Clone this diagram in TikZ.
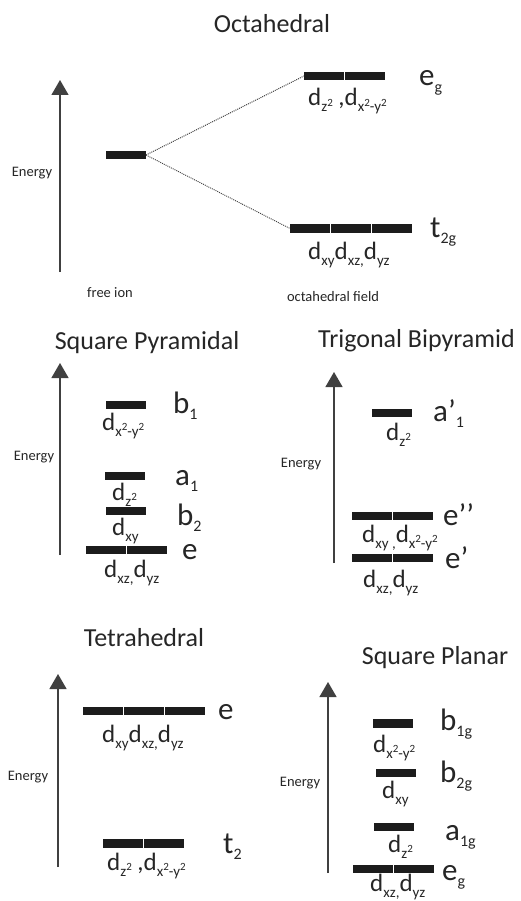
\documentclass[tikz,border=0pt]{standalone}
\usepackage{fontspec}
\setmainfont{Carlito}
\usetikzlibrary{arrows.meta}
\definecolor{txt}{HTML}{262626}
\definecolor{barc}{HTML}{1C1C1C}
\definecolor{axc}{HTML}{404040}
\newcommand\sbx[1]{\raisebox{-0.24em}{\fontsize{15}{17}\selectfont #1}}
\newcommand\sqr{\raisebox{0.35em}{\fontsize{11}{12}\selectfont 2}}
\newcommand\ssb[1]{\raisebox{-0.22em}{\fontsize{16}{18}\selectfont #1}}
\begin{document}
\begin{tikzpicture}[x=1pt,y=-1pt,
  seg/.style={rectangle,fill=barc,draw=none,minimum width=40pt,minimum height=8.5pt,inner sep=0pt,outer sep=0pt},
  ttl/.style={text=txt,font=\fontsize{26}{30}\selectfont,inner sep=0pt},
  sml/.style={text=txt,font=\fontsize{14.5}{17}\selectfont,inner sep=0pt},
  dl/.style={text=txt,font=\fontsize{25}{28}\selectfont,inner sep=0pt,anchor=base west},
  sl/.style={text=txt,font=\fontsize{31}{34}\selectfont,inner sep=0pt,anchor=base west},
  ax/.style={draw=axc,line width=1.3pt,-{Triangle[width=17pt,length=15pt]}},
  dotl/.style={draw=axc,line width=0.9pt,dash pattern=on 1pt off 1pt}]
\useasboundingbox (0,0) rectangle (520,901);
\fill[white] (0,0) rectangle (520,901);

% ================= Octahedral =================
\node[ttl] (tOct) at (272,24) {Octahedral};
\coordinate (oA0) at (60,272); \coordinate (oA1) at (60,80);
\draw[ax] (oA0) -- (oA1);
\node[sml] (oEn) at (32,173) {Energy};
\node[seg,anchor=west] (free) at (106,155) {};
\node[seg,anchor=west] (oeg1) at (304,76) {};
\node[seg,anchor=west] (oeg2) at ([xshift=1.2pt]oeg1.east) {};
\node[seg,anchor=west] (ot1) at (290,228.5) {};
\node[seg,anchor=west] (ot2) at ([xshift=1.2pt]ot1.east) {};
\node[seg,anchor=west] (ot3) at ([xshift=1.2pt]ot2.east) {};
\draw[dotl] (free.east) -- (oeg1.west);
\draw[dotl] (free.east) -- (ot1.west);
\node[sl] (oegL) at (419,86) {e\ssb{g}};
\node[dl] (oegD) at (308,106) {d\sbx{z\sqr} ,d\sbx{x\sqr-y\sqr}};
\node[sl] (ot2gL) at (430,237) {t\ssb{2g}};
\node[dl] (ot2gD) at (308,259) {d\sbx{xy}d\sbx{xz,}d\sbx{yz}};
\node[sml] (ofree) at (110,293) {free ion};
\node[sml] (ofield) at (333,297) {octahedral field};

% ================= Square Pyramidal =================
\node[ttl] (tSP) at (147,343) {Square Pyramidal};
\coordinate (pA0) at (60,555); \coordinate (pA1) at (60,363);
\draw[ax] (pA0) -- (pA1);
\node[sml] (pEn) at (34,457) {Energy};
\node[seg,anchor=west] (pb1) at (106,405) {};
\node[sl] (pb1L) at (173,413) {b\ssb{1}};
\node[dl] (pb1D) at (102,430) {d\sbx{x\sqr-y\sqr}};
\node[seg,anchor=west] (pa1) at (105,476) {};
\node[sl] (pa1L) at (175,485) {a\ssb{1}};
\node[dl] (pa1D) at (112,500) {d\sbx{z\sqr}};
\node[seg,anchor=west] (pb2) at (106,511) {};
\node[sl] (pb2L) at (177,525) {b\ssb{2}};
\node[dl] (pb2D) at (112,535) {d\sbx{xy}};
\node[seg,anchor=west] (pe1) at (86,550) {};
\node[seg,anchor=west] (pe2) at ([xshift=1.2pt]pe1.east) {};
\node[sl] (peL) at (182,559) {e};
\node[dl] (peD) at (104,577) {d\sbx{xz,}d\sbx{yz}};

% ================= Trigonal Bipyramid =================
\node[ttl,anchor=west] (tTB) at (318,341) {Trigonal Bipyramid};
\coordinate (bA0) at (334,563); \coordinate (bA1) at (334,372);
\draw[ax] (bA0) -- (bA1);
\node[sml] (bEn) at (301,464) {Energy};
\node[seg,anchor=west] (ba1) at (372,413) {};
\node[sl] (ba1L) at (433,421) {a’\ssb{1}};
\node[dl] (ba1D) at (386,440) {d\sbx{z\sqr}};
\node[seg,anchor=west] (be21) at (352,516) {};
\node[seg,anchor=west] (be22) at ([xshift=1.2pt]be21.east) {};
\node[sl] (be2L) at (443,525) {e’’};
\node[dl] (be2D) at (362,542) {d\sbx{xy ,}d\sbx{x\sqr-y\sqr}};
\node[seg,anchor=west] (be11) at (352,558) {};
\node[seg,anchor=west] (be12) at ([xshift=1.2pt]be11.east) {};
\node[sl] (be1L) at (445,568) {e’};
\node[dl] (be1D) at (363,587) {d\sbx{xz,}d\sbx{yz}};

% ================= Tetrahedral =================
\node[ttl] (tTd) at (144,638) {Tetrahedral};
\coordinate (tA0) at (58,867); \coordinate (tA1) at (58,674);
\draw[ax] (tA0) -- (tA1);
\node[sml] (tEn) at (28,777) {Energy};
\node[seg,anchor=west] (te1) at (83,711) {};
\node[seg,anchor=west] (te2) at ([xshift=1.2pt]te1.east) {};
\node[seg,anchor=west] (te3) at ([xshift=1.2pt]te2.east) {};
\node[sl] (teL) at (218,719) {e};
\node[dl] (teD) at (102,742) {d\sbx{xy}d\sbx{xz,}d\sbx{yz}};
\node[seg,anchor=west] (tt1) at (103,843.5) {};
\node[seg,anchor=west] (tt2) at ([xshift=1.2pt]tt1.east) {};
\node[sl] (ttL) at (223,853) {t\ssb{2}};
\node[dl] (ttD) at (107,870) {d\sbx{z\sqr} ,d\sbx{x\sqr-y\sqr}};

% ================= Square Planar =================
\node[ttl] (tSq) at (435,658) {Square Planar};
\coordinate (qA0) at (328,873); \coordinate (qA1) at (328,682);
\draw[ax] (qA0) -- (qA1);
\node[sml] (qEn) at (300,783) {Energy};
\node[seg,anchor=west] (qb1) at (373,723.5) {};
\node[sl] (qb1L) at (440,730) {b\ssb{1g}};
\node[dl] (qb1D) at (373,752) {d\sbx{x\sqr-y\sqr}};
\node[seg,anchor=west] (qb2) at (376,773) {};
\node[sl] (qb2L) at (440,782) {b\ssb{2g}};
\node[dl] (qb2D) at (382,798) {d\sbx{xy}};
\node[seg,anchor=west] (qa1) at (374,827) {};
\node[sl] (qa1L) at (445,840) {a\ssb{1g}};
\node[dl] (qa1D) at (388,852) {d\sbx{z\sqr}};
\node[seg,anchor=west] (qe1) at (353,869) {};
\node[seg,anchor=west] (qe2) at ([xshift=1.2pt]qe1.east) {};
\node[sl] (qeL) at (442,880) {e\ssb{g}};
\node[dl] (qeD) at (370,891) {d\sbx{xz,}d\sbx{yz}};
\end{tikzpicture}
\end{document}
